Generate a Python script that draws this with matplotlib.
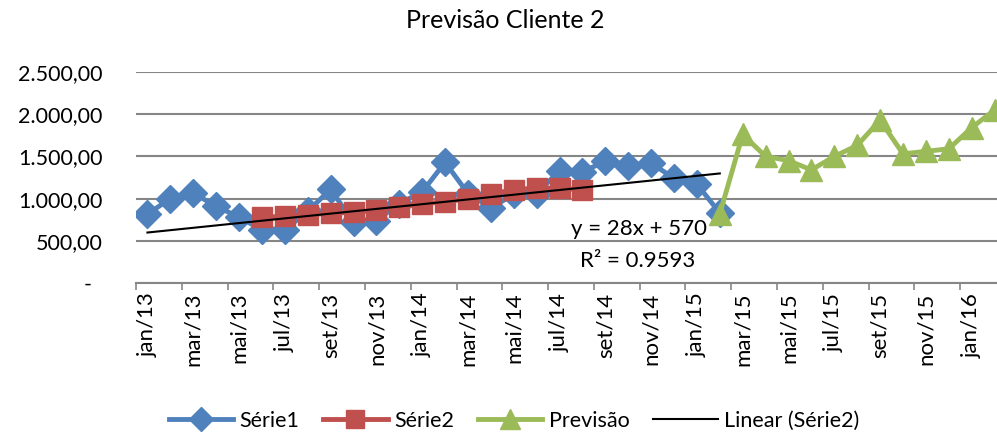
import numpy as np
import matplotlib.pyplot as plt

# meses do eixo (jan/13 .. fev/16)
nomes = ['jan', 'fev', 'mar', 'abr', 'mai', 'jun', 'jul', 'ago', 'set', 'out', 'nov', 'dez']
meses = [f'{m}/{a}' for a in range(13, 17) for m in nomes][:38]

# Série1: jan/13 .. fev/15
serie1 = [816, 1000, 1065, 910, 780, 630, 630, 850, 1110, 720, 740, 940, 1080,
          1430, 1060, 890, 1050, 1060, 1330, 1320, 1440, 1390, 1420, 1240, 1170, 830]
inicio_serie1 = 'jan/13'

# Série2: jun/13 .. ago/14
serie2 = [780, 790, 810, 825, 840, 860, 900, 940, 960, 1000, 1060, 1100, 1130, 1120, 1105]
inicio_serie2 = 'jun/13'

# Previsão: fev/15 .. fev/16
previsao = [820, 1760, 1500, 1450, 1340, 1500, 1630, 1930, 1530, 1560, 1590, 1840, 2050]
inicio_previsao = 'fev/15'

# tendência linear exibida no gráfico
coef_a, coef_b = 28, 570
n_tendencia = 26

y_ticks = [0, 500, 1000, 1500, 2000, 2500]
y_labels = ['-  ', '500,00', '1.000,00', '1.500,00', '2.000,00', '2.500,00']

azul = '#4F81BD'
vermelho = '#C0504D'
verde = '#9BBB59'
cinza = '#868686'

plt.rcParams['font.family'] = ['Lato', 'DejaVu Sans']

fig = plt.figure(figsize=(9.97, 4.37), dpi=100)
ax = fig.add_axes([136 / 997, 154 / 437, 870 / 997, 211 / 437])

def xs(inicio, valores):
    i0 = meses.index(inicio)
    return np.arange(i0, i0 + len(valores))

ax.plot(xs(inicio_serie1, serie1), serie1, color=azul, lw=3.5, marker='D',
        markersize=14, label='Série1', zorder=3)
ax.plot(xs(inicio_serie2, serie2), serie2, color=vermelho, lw=3.5, marker='s',
        markersize=15, label='Série2', zorder=4)
ax.plot(xs(inicio_previsao, previsao), previsao, color=verde, lw=3.5, marker='^',
        markersize=16, label='Previsão', zorder=3)

xt = np.arange(1, n_tendencia + 1)
ax.plot(xt - 1, coef_a * xt + coef_b, color='black', lw=1.5, label='Linear (Série2)', zorder=5)

ax.set_xlim(-0.5, len(meses) - 0.5)
ax.set_ylim(0, 2500)

ax.set_yticks(y_ticks)
ax.set_yticklabels(y_labels, fontsize=15.5)
ax.tick_params(axis='y', length=0, pad=24)
ax.grid(axis='y', color=cinza, lw=1.5)
ax.set_axisbelow(True)

ax.set_xticks(np.arange(0, len(meses), 2))
ax.set_xticklabels(meses[::2], rotation=90, fontsize=16)
ax.set_xticks(np.arange(-0.5, len(meses), 2), minor=True)
ax.tick_params(axis='x', which='major', length=0, pad=7)
ax.tick_params(axis='x', which='minor', length=5, color=cinza, width=1.2)

for s in ['top', 'right', 'left']:
    ax.spines[s].set_visible(False)
ax.spines['bottom'].set_color(cinza)
ax.spines['bottom'].set_linewidth(1.5)

fig.text(505 / 997, 1 - 20 / 437, 'Previsão Cliente 2', ha='center', va='center', fontsize=18)
fig.text(639 / 997, 1 - 229 / 437, 'y = 28x + 570', ha='center', va='center', fontsize=16)
fig.text(638 / 997, 1 - 261 / 437, 'R² = 0.9593', ha='center', va='center', fontsize=16)

fig.legend(loc='center', bbox_to_anchor=(514 / 997, 1 - 421 / 437), ncol=4, frameon=False,
           fontsize=15.5, handlelength=3, columnspacing=1.1, handletextpad=0.3, markerscale=0.9)

fig.savefig('out.png', dpi=100)
